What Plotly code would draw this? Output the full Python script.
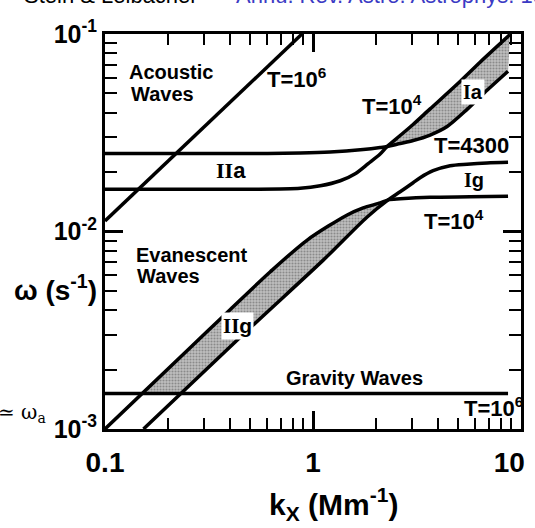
import numpy as np
import plotly.graph_objects as go

# ---- branch data: wavenumber k_x (Mm^-1) and frequency omega (s^-1) ----
# acoustic branch, T = 4300 K (top edge of IIa, lower edge of Ia)
ac4300_k = [0.1, 0.4995, 0.8685, 1.21, 1.743, 2.103, 2.273, 2.624, 3.029, 3.656, 4.414, 5.506, 6.866, 8.663]
ac4300_w = [0.0248, 0.0248, 0.02494, 0.02523, 0.02599, 0.0266, 0.02692, 0.02788, 0.02888, 0.0308, 0.03402, 0.04152, 0.05188, 0.0648]

# acoustic branch, T = 1e4 K (bottom edge of IIa, upper edge of Ia)
ac1e4_k = [0.1, 0.4995, 0.8685, 1.0834, 1.352, 1.5954, 1.842, 2.1033, 2.273, 2.624, 3.029, 3.656, 4.929, 6.355, 8.857]
ac1e4_w = [0.01636, 0.01636, 0.01655, 0.01704, 0.01807, 0.01962, 0.02206, 0.02466, 0.02692, 0.03062, 0.03483, 0.04177, 0.05565, 0.07202, 0.09942]

# gravity branch, T = 1e4 K (upper edge of IIg, lower edge of Ig)
gr1e4_k = [0.1, 0.2574, 0.4005, 0.6233, 0.9384, 1.4607, 1.7429, 2.1033, 2.2979, 2.6242, 3.6559, 5.689, 8.663]
gr1e4_w = [0.001, 0.002584, 0.004031, 0.006255, 0.009051, 0.01213, 0.01317, 0.01396, 0.01446, 0.01463, 0.0149, 0.01498, 0.01507]

# gravity branch, T = 4300 K (lower edge of IIg, upper edge of Ig)
gr4300_k = [0.1531, 0.4833, 1.1199, 1.8217, 2.2979, 2.6242, 3.0289, 3.2734, 3.7791, 4.5625, 5.5055, 6.8658, 8.663]
gr4300_w = [0.001, 0.003153, 0.007161, 0.01185, 0.01446, 0.01589, 0.01765, 0.01872, 0.02032, 0.02154, 0.02193, 0.02224, 0.02239]

# T = 1e6 K: sound-speed line and gravity cutoff
ac1e6_k = [0.1, 0.885]
ac1e6_w = [0.0113, 0.1]
gr1e6_k = [0.1, 8.663]
gr1e6_w = [0.001512, 0.001512]

# points where the two temperature branches cross
acoustic_cross_k = 2.273
gravity_cross_k = 2.2979

# axis ticks
x_major = [0.1, 1, 10]
x_major_text = ["0.1", "1", "10&nbsp;&nbsp;&nbsp;"]
x_minor = [0.2, 0.3, 0.4, 0.5, 0.6, 0.7, 0.8, 0.9, 2, 3, 4, 5, 6, 7, 8, 9]
y_major = [0.001, 0.01, 0.1]
y_major_text = ["10<sup>-3</sup>", "10<sup>-2</sup>", "10<sup>-1</sup>"]
y_minor = [0.002, 0.003, 0.004, 0.005, 0.006, 0.007, 0.008, 0.009,
           0.02, 0.03, 0.04, 0.05, 0.06, 0.07, 0.08, 0.09]


def from_cross(k, w, kc):
    i = k.index(kc)
    return k[i:], w[i:]


def band_part(k, w, floor, kc):
    """Part of a branch lying above `floor`, up to the crossing point kc."""
    lk, lw = np.log10(k), np.log10(w)
    end = k.index(kc)
    ok, ow = [], []
    for i in range(end + 1):
        if w[i] >= floor:
            if i > 0 and w[i - 1] < floor:
                t = (np.log10(floor) - lw[i - 1]) / (lw[i] - lw[i - 1])
                ok.append(10 ** (lk[i - 1] + t * (lk[i] - lk[i - 1])))
                ow.append(floor)
            ok.append(k[i])
            ow.append(w[i])
    return ok, ow


STIPPLE = dict(shape=".", fgcolor="#555555", bgcolor="#bfbfbf", size=3, solidity=0.4)
EDGE = dict(width=0, shape="spline", smoothing=0.8)
LINE = dict(color="black", width=3.5, shape="spline", smoothing=0.8)

fig = go.Figure()

# shaded region Ia
lo_k, lo_w = from_cross(ac4300_k, ac4300_w, acoustic_cross_k)
hi_k, hi_w = from_cross(ac1e4_k, ac1e4_w, acoustic_cross_k)
fig.add_trace(go.Scatter(x=lo_k, y=lo_w, mode="lines", line=EDGE, hoverinfo="skip"))
fig.add_trace(go.Scatter(x=hi_k, y=hi_w, mode="lines", fill="tonexty", fillpattern=STIPPLE,
                         line=EDGE, hoverinfo="skip"))

# shaded region IIg (above the T=1e6 gravity cutoff)
floor = gr1e6_w[0]
lo_k, lo_w = band_part(gr4300_k, gr4300_w, floor, gravity_cross_k)
hi_k, hi_w = band_part(gr1e4_k, gr1e4_w, floor, gravity_cross_k)
fig.add_trace(go.Scatter(x=lo_k, y=lo_w, mode="lines", line=EDGE, hoverinfo="skip"))
fig.add_trace(go.Scatter(x=hi_k, y=hi_w, mode="lines", fill="tonexty", fillpattern=STIPPLE,
                         line=EDGE, hoverinfo="skip"))

# branch curves
for k, w in [(ac4300_k, ac4300_w), (ac1e4_k, ac1e4_w), (gr1e4_k, gr1e4_w),
             (gr4300_k, gr4300_w), (ac1e6_k, ac1e6_w), (gr1e6_k, gr1e6_w)]:
    fig.add_trace(go.Scatter(x=k, y=w, mode="lines", line=LINE, hoverinfo="skip"))

SANS = "Liberation Sans, Arial, sans-serif"
LBL = dict(family=SANS, size=20, color="black", weight="bold")
TLBL = dict(family=SANS, size=22, color="black", weight="bold")
NUM = dict(family="Liberation Sans Narrow, Arial Narrow, Liberation Sans, Arial, sans-serif",
           size=30, color="black", weight="bold")
ROMAN = "font-family:'Liberation Serif','DejaVu Serif',serif"


def lab(text, lk, lw, font=LBL, anchor="left", bg=None):
    fig.add_annotation(x=lk, y=lw, xref="x", yref="y", text=text, showarrow=False,
                       xanchor=anchor, yanchor="middle", font=font,
                       bgcolor=bg, borderpad=1)


lab("Acoustic", -0.892, -1.191)
lab("Waves", -0.887, -1.305)
lab("Evanescent", -0.863, -2.120)
lab("Waves", -0.854, -2.226)
lab("Gravity Waves", 0.198, -2.740, anchor="center")
lab("T=10<sup>6</sup>", -0.229, -1.225, font=TLBL)
lab("T=10<sup>4</sup>", 0.227, -1.357, font=TLBL)
lab("T=4300", 0.760, -1.567, font=TLBL, anchor="center")
lab("T=10<sup>4</sup>", 0.525, -1.943, font=TLBL)
lab("T=10<sup>6</sup>", 0.717, -2.889, font=TLBL)
lab(f"<span style=\"{ROMAN}\">I</span>a", 0.767, -1.293, anchor="center", bg="white")
lab(f"<span style=\"{ROMAN}\">I</span>g", 0.774, -1.738, anchor="center")
lab(f"<span style=\"{ROMAN}\">II</span>a", -0.393, -1.692,
    font=dict(LBL, size=22), anchor="center")
lab(f"<span style=\"{ROMAN}\">II</span>g", -0.364, -2.476,
    font=dict(LBL, size=21), anchor="center", bg="white")

# axis titles
fig.add_annotation(x=0.55, y=-0.19, xref="paper", yref="paper", showarrow=False,
                   text="k<sub>X</sub> (Mm<sup>-1</sup>)", font=dict(NUM, size=30),
                   xanchor="center", yanchor="middle")
fig.add_annotation(x=-0.118, y=0.357, xref="paper", yref="paper", showarrow=False,
                   text="ω (s<sup>-1</sup>)", font=dict(NUM, size=28),
                   xanchor="center", yanchor="middle")

# page fragments around the figure
fig.add_annotation(x=-0.136, y=0.04, xref="paper", yref="paper", showarrow=False,
                   text="≃ ω<sub>a</sub>", xanchor="right", yanchor="middle",
                   font=dict(family="DejaVu Serif, serif", size=20, color="black"))
fig.add_annotation(x=-0.2, y=1.097, xref="paper", yref="paper", showarrow=False,
                   text="Stein &amp; Leibacher", xanchor="left", yanchor="middle",
                   font=dict(family=SANS, size=22, color="black"))
fig.add_annotation(x=0.31, y=1.097, xref="paper", yref="paper", showarrow=False,
                   text="Annu. Rev. Astro. Astrophys. 1974.12:407-435",
                   xanchor="left", yanchor="middle",
                   font=dict(family=SANS, size=22, color="#3b3bc4"))

AX = dict(type="log", showline=True, linewidth=3, linecolor="black", mirror="allticks",
          ticks="inside", ticklen=18, tickwidth=2.5, tickcolor="black",
          showgrid=False, zeroline=False, ticklabeloverflow="allow", automargin=False)

fig.update_xaxes(AX, range=[-1, 1], tickvals=x_major, ticktext=x_major_text,
                 ticklabelstandoff=6, tickfont=dict(NUM, size=28),
                 minor=dict(tickvals=x_minor, ticks="inside", ticklen=11, tickwidth=2,
                            tickcolor="black", showgrid=False))
fig.update_yaxes(AX, range=[-3, -1], tickvals=y_major, ticktext=y_major_text,
                 ticklabelstandoff=0, tickfont=dict(NUM, size=25),
                 minor=dict(tickvals=y_minor, ticks="inside", ticklen=12, tickwidth=2,
                            tickcolor="black", showgrid=False))

fig.update_layout(width=535, height=528, showlegend=False,
                  margin=dict(l=105, r=14, t=34, b=99, autoexpand=False),
                  plot_bgcolor="white", paper_bgcolor="white")

fig.write_html("out.html")
